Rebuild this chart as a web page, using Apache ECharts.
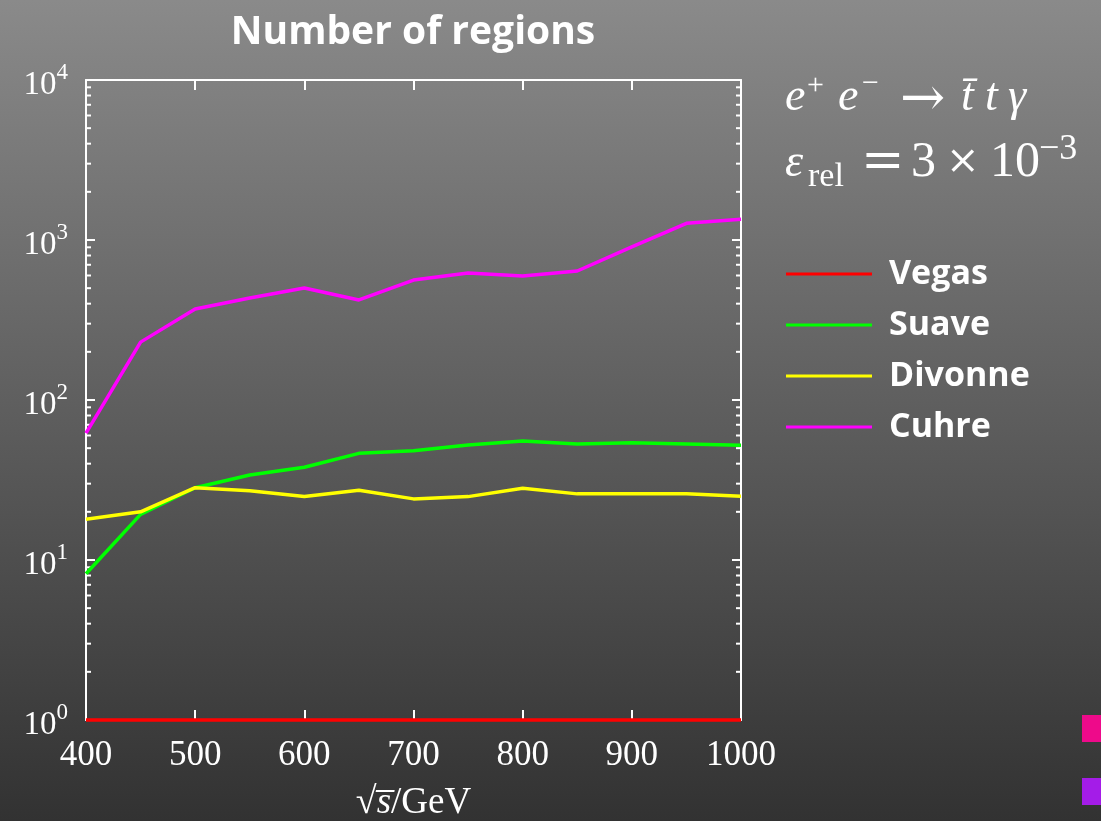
<!DOCTYPE html>
<html>
<head>
<meta charset="utf-8">
<script src="https://cdn.jsdelivr.net/npm/echarts@6/dist/echarts.min.js"></script>
<style>
  html, body { margin: 0; padding: 0; }
  #chart { width: 1101px; height: 821px; }
</style>
</head>
<body>
<div id="chart"></div>
<script>
// Centre-of-mass energy sqrt(s) in GeV
const energies = [400, 450, 500, 550, 600, 650, 700, 750, 800, 850, 900, 950, 1000];

// Number of regions used by each integrator
const vegas   = [1, 1, 1, 1, 1, 1, 1, 1, 1, 1, 1, 1, 1];
const suave   = [8.2, 19.3, 28.3, 34, 38, 46.4, 48.2, 52.3, 55.5, 53.1, 54.1, 53.1, 52.1];
const divonne = [18, 20, 28.3, 27.1, 24.9, 27.3, 24.1, 24.9, 28.1, 25.9, 25.9, 25.9, 25];
const cuhre   = [62, 230, 370, 434, 501, 422, 562, 622, 596, 640, 905, 1271, 1347];

const seriesNames = ['Vegas', 'Suave', 'Divonne', 'Cuhre'];
const seriesColors = ['#ff0000', '#00ff00', '#ffff00', '#ff00ff'];

// Axis ranges and tick marks
const xMin = 400, xMax = 1000, xStep = 100;
const yMin = 1, yMax = 10000;
const minorTickValues = [];
for (let d = 1; d < yMax; d *= 10) {
  for (let m = 2; m <= 9; m++) minorTickValues.push(m * d);
}

const serif = '"Liberation Serif", "DejaVu Serif", serif';
const mathSym = '"DejaVu Serif", serif';
const sans = '"Open Sans", Lato, sans-serif';

const chart = echarts.init(document.getElementById('chart'));

const toPairs = vals => energies.map((e, i) => [e, vals[i]]);
const lineSeries = [vegas, suave, divonne, cuhre].map((vals, i) => ({
  name: seriesNames[i],
  type: 'line',
  data: toPairs(vals),
  symbol: 'none',
  lineStyle: { color: seriesColors[i], width: 3.5 },
  itemStyle: { color: seriesColors[i] },
  z: 3,
  clip: false
}));

// Minor ticks of the logarithmic axis, on both the left and right frame edges
const minorTicks = {
  type: 'custom',
  data: minorTickValues.map(v => [xMin, v]),
  silent: true,
  clip: false,
  z: 1,
  renderItem: (params, api) => {
    const v = api.value(1);
    const l = api.coord([xMin, v]);
    const r = api.coord([xMax, v]);
    const style = { stroke: '#ffffff', lineWidth: 2 };
    return {
      type: 'group',
      children: [
        { type: 'line', shape: { x1: l[0], y1: l[1], x2: l[0] + 5, y2: l[1] }, style },
        { type: 'line', shape: { x1: r[0], y1: r[1], x2: r[0] - 5, y2: r[1] }, style }
      ]
    };
  }
};

const frameLine = { show: true, lineStyle: { color: '#ffffff', width: 2 } };

// One piece of the process / accuracy annotation
function mathText(str, x, y, size, opts) {
  opts = opts || {};
  return {
    type: 'text', x: x, y: y, silent: true,
    style: {
      text: str, fill: '#ffffff',
      fontFamily: opts.family || serif,
      fontStyle: opts.italic ? 'italic' : 'normal',
      fontSize: size,
      align: 'left', verticalAlign: 'middle'
    }
  };
}

chart.setOption({
  backgroundColor: {
    type: 'linear', x: 0, y: 0, x2: 0, y2: 1,
    colorStops: [
      { offset: 0, color: '#8a8a8a' },
      { offset: 1, color: '#323232' }
    ]
  },
  animation: false,
  title: {
    text: 'Number of regions',
    left: 408,
    textAlign: 'center',
    top: 8,
    textStyle: { color: '#ffffff', fontFamily: sans, fontWeight: 'bold', fontSize: 39 }
  },
  legend: {
    orient: 'vertical',
    left: 781,
    top: 252,
    icon: 'rect',
    itemWidth: 86,
    itemHeight: 3,
    itemGap: 17,
    data: seriesNames,
    textStyle: {
      color: '#ffffff', fontFamily: sans, fontWeight: 'bold', fontSize: 34,
      lineHeight: 34, padding: [0, 0, 0, 12]
    }
  },
  grid: { left: 86, right: 360, top: 80, bottom: 101, outerBoundsMode: 'none', containLabel: false },
  xAxis: [
    {
      type: 'value', min: xMin, max: xMax, interval: xStep,
      axisLine: frameLine,
      axisTick: { inside: true, length: 10, lineStyle: { color: '#ffffff', width: 2 } },
      splitLine: { show: false },
      axisLabel: { color: '#ffffff', fontFamily: serif, fontSize: 35, margin: 18, formatter: v => String(v) },
      name: '{r|√}{s|s\u0305}{n|/GeV}',
      nameLocation: 'middle',
      nameGap: 64,
      nameTextStyle: {
        color: '#ffffff', fontFamily: serif, fontSize: 37,
        rich: {
          r: { color: '#ffffff', fontFamily: serif, fontSize: 38 },
          s: { color: '#ffffff', fontFamily: serif, fontSize: 37, fontStyle: 'italic' },
          n: { color: '#ffffff', fontFamily: serif, fontSize: 37 }
        }
      }
    },
    {
      type: 'value', min: xMin, max: xMax, interval: xStep, position: 'top',
      axisLine: frameLine,
      axisTick: { inside: true, length: 10, lineStyle: { color: '#ffffff', width: 2 } },
      splitLine: { show: false },
      axisLabel: { show: false }
    }
  ],
  yAxis: [
    {
      type: 'log', logBase: 10, min: yMin, max: yMax, interval: 1,
      axisLine: frameLine,
      axisTick: { inside: true, length: 9, lineStyle: { color: '#ffffff', width: 2 } },
      splitLine: { show: false },
      axisLabel: {
        margin: 18,
        formatter: v => '{b|10}{e|' + Math.round(Math.log10(v)) + '}',
        rich: {
          b: { color: '#ffffff', fontFamily: serif, fontSize: 33, verticalAlign: 'bottom', lineHeight: 38, padding: [0, 0, -3, 0] },
          e: { color: '#ffffff', fontFamily: serif, fontSize: 23, verticalAlign: 'top', lineHeight: 38 }
        }
      }
    },
    {
      type: 'log', logBase: 10, min: yMin, max: yMax, interval: 1, position: 'right',
      axisLine: frameLine,
      axisTick: { inside: true, length: 9, lineStyle: { color: '#ffffff', width: 2 } },
      splitLine: { show: false },
      axisLabel: { show: false }
    }
  ],
  graphic: [
    // e+ e- -> tbar t gamma
    mathText('e', 785, 98, 46, { italic: true }),
    mathText('+', 807, 86, 30),
    mathText('e', 838, 98, 46, { italic: true }),
    mathText('−', 862, 84, 30),
    mathText('→', 900, 101, 54, { family: mathSym }),
    mathText('t\u0304', 961, 98, 46, { italic: true }),
    mathText('t', 985, 98, 46, { italic: true }),
    mathText('γ', 1008, 98, 46, { italic: true }),
    // relative accuracy
    mathText('ε', 785, 164, 46, { italic: true }),
    mathText('rel', 808, 177, 34),
    mathText('=', 861, 163, 52, { family: mathSym }),
    mathText('3', 911, 163, 50),
    mathText('×', 946, 163, 40, { family: mathSym }),
    mathText('10', 990, 163, 50),
    mathText('−3', 1039, 150, 36),
    // page markers
    { type: 'rect', left: 1082, top: 715, shape: { width: 19, height: 27 }, style: { fill: '#ee0a8a' } },
    { type: 'rect', left: 1082, top: 778, shape: { width: 19, height: 27 }, style: { fill: '#a41ce8' } }
  ],
  series: lineSeries.concat([minorTicks])
});
</script>
</body>
</html>
